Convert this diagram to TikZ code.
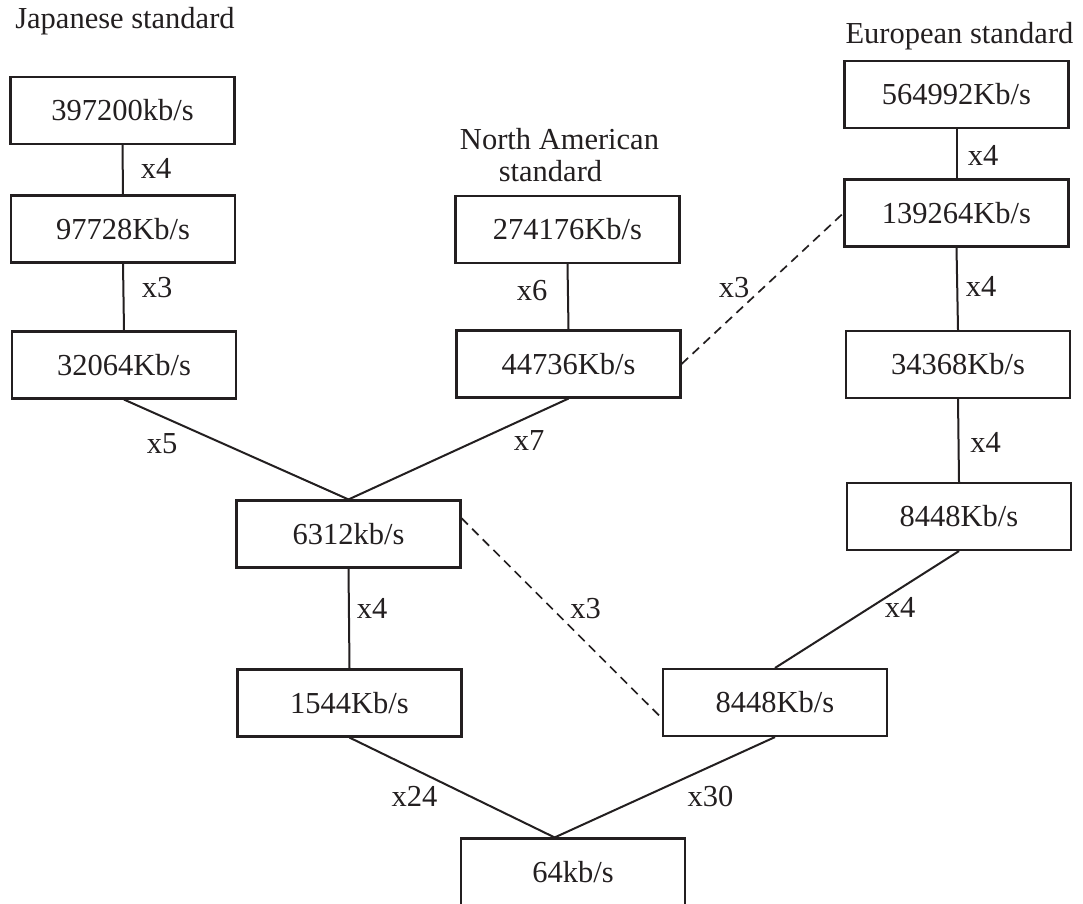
\documentclass[tikz,border=0pt]{standalone}
\usepackage{fontspec}
\setmainfont{Liberation Serif}
\definecolor{linec}{HTML}{231F20}
\definecolor{txtc}{HTML}{231F20}
\newcommand\bxfont{\fontsize{30.5}{36}\selectfont}
\tikzset{
  box/.style={draw=linec, line width=2.1pt, minimum width=224pt, minimum height=67pt,
    inner sep=0pt, text height=20.6pt, text depth=0pt, font=\bxfont, text=txtc},
  lbl/.style={anchor=base, inner sep=0pt, font=\bxfont, text=txtc},
  conn/.style={draw=linec, line width=2pt},
  dconn/.style={draw=linec, line width=1.7pt, dash pattern=on 9pt off 6pt},
}
\begin{document}
\begin{tikzpicture}[x=1pt, y=-1pt]
\path[use as bounding box] (0,0) rectangle (1083,903);
\clip (0,0) rectangle (1083,903);
\fill[white] (0,0) rectangle (1083,903);

% titles
\node[lbl] (tj) at (125,28) {Japanese standard};
\node[lbl] (tn1) at (559.5,149) {North American};
\node[lbl] (tn2) at (550.5,181) {standard};
\node[lbl] (te) at (959.5,43) {European standard};

% boxes
\node[box] (j1) at (122.5,110.5) {397200kb/s};
\node[box] (j2) at (123,229) {97728Kb/s};
\node[box] (j3) at (124,365) {32064Kb/s};
\node[box] (n1) at (567.5,229.5) {274176Kb/s};
\node[box] (n2) at (568.5,364) {44736Kb/s};
\node[box] (e1) at (956.5,94.5) {564992Kb/s};
\node[box] (e2) at (956.5,213) {139264Kb/s};
\node[box] (e3) at (958,364.5) {34368Kb/s};
\node[box] (e4) at (959,516.5) {8448Kb/s};
\node[box] (m) at (348.5,534) {6312kb/s};
\node[box] (t1) at (349.5,703) {1544Kb/s};
\node[box] (e5) at (775,702.5) {8448Kb/s};
\node[box] (b) at (573,872) {64kb/s};

% connectors
\draw[conn] (j1.south) -- (j2.north);
\draw[conn] (j2.south) -- (j3.north);
\draw[conn] (j3.south) -- (m.north);
\draw[conn] (n1.south) -- (n2.north);
\draw[conn] (n2.south) -- (m.north);
\draw[conn] (e1.south) -- (e2.north);
\draw[conn] (e2.south) -- (e3.north);
\draw[conn] (e3.south) -- (e4.north);
\draw[conn] (e4.south) -- (e5.north);
\draw[conn] (m.south) -- (t1.north);
\draw[conn] (t1.south) -- (b.118);
\draw[conn] (e5.south) -- (b.118);
\draw[dconn] (n2.east) -- (e2.west);
\draw[dconn] (m.8.7) -- (e5.188);

% labels
\node[lbl] (l1) at (156,178) {x4};
\node[lbl] (l2) at (157,297) {x3};
\node[lbl] (l3) at (532,300) {x6};
\node[lbl] (l4) at (983,165) {x4};
\node[lbl] (l5) at (981,296) {x4};
\node[lbl] (l6) at (734,297) {x3};
\node[lbl] (l7) at (162,453) {x5};
\node[lbl] (l8) at (529,450) {x7};
\node[lbl] (l9) at (372,618) {x4};
\node[lbl] (l10) at (585.5,618) {x3};
\node[lbl] (l11) at (985.5,452) {x4};
\node[lbl] (l12) at (900,617) {x4};
\node[lbl] (l13) at (414.5,806) {x24};
\node[lbl] (l14) at (710.5,806) {x30};
\end{tikzpicture}
\end{document}
